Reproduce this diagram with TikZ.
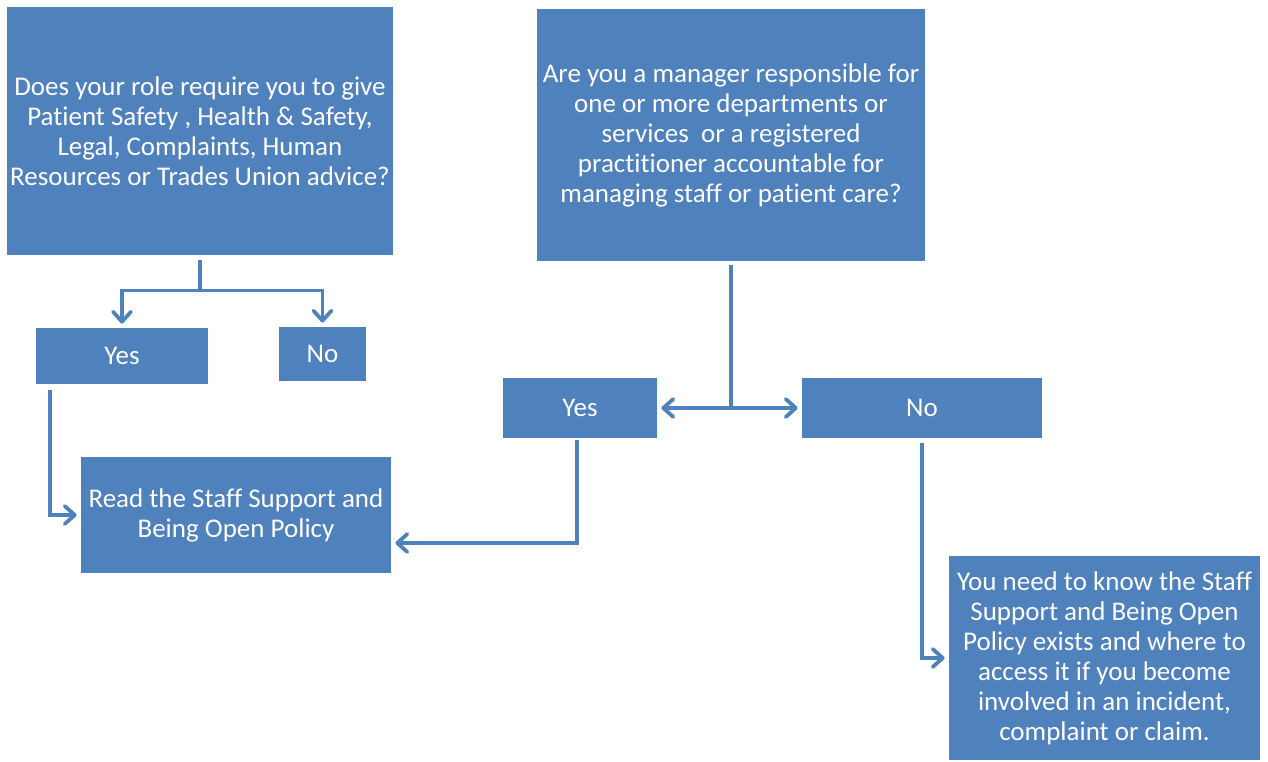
\documentclass[tikz,border=0pt]{standalone}
\usepackage{fontspec}
\setmainfont{Carlito}[Ligatures=NoCommon]
\usetikzlibrary{arrows.meta, positioning, calc}
\definecolor{officeblue}{RGB}{79,129,189}

\begin{document}
\begin{tikzpicture}[x=0.5pt, y=-0.5pt,
  box/.style={fill=officeblue, text=white, align=center, inner sep=0pt, font=\fontsize{13.5}{15}\selectfont},
  link/.style={draw=officeblue, line width=1.9pt},
  arr/.style={link, shorten >=2pt, -{Straight Barb[length=5pt, width=9pt, round]}}]
\useasboundingbox (0,0) rectangle (1268,761);

\node[box, minimum width=193pt, minimum height=124pt] (role) at (200,131) {Does your role require you to give\\Patient Safety , Health \& Safety,\\Legal, Complaints, Human\\Resources or Trades Union advice?};
\node[box, minimum width=194pt, minimum height=126pt] (manager) at (731,135) {Are you a manager responsible for\\one or more departments or\\services~ or a registered\\practitioner accountable for\\managing staff or patient care?};

\node[box, minimum width=86pt, minimum height=28pt] (yesA) at (122,356) {Yes};
\node[box, minimum width=43.5pt, minimum height=27pt] (noA) at (322.5,354) {No};
\node[box, minimum width=77pt, minimum height=30pt] (yesB) at (580,408) {Yes};
\node[box, minimum width=120pt, minimum height=30pt] (noB) at (922,408) {No};

\node[box, minimum width=155pt, minimum height=58pt] (read) at (236,515) {Read the Staff Support and\\Being Open Policy};
\node[box, minimum width=155.5pt, minimum height=102pt] (know) at (1104.5,658) {You need to know the Staff\\Support and Being Open\\Policy exists and where to\\access it if you become\\involved in an incident,\\complaint or claim.};

\draw[link] ([yshift=-2.5pt]role.south) -- ++(0,30) coordinate (j1);
\draw[arr] (j1) -| (yesA.north);
\draw[arr] (j1) -| (noA.north);
\draw[arr] ([xshift=7pt, yshift=-3pt]yesA.south west) |- (read.west);

\draw[link] ([yshift=-2pt]manager.south) -- (manager.south |- yesB.east) coordinate (j2);
\draw[arr] (j2) -- (yesB.east);
\draw[arr] (j2) -- (noB.west);
\draw[arr] ([xshift=-1.5pt, yshift=-1pt]yesB.south) |- ([yshift=-14pt]read.east);
\draw[arr] ([yshift=-2.5pt]noB.south) |- (know.west);
\end{tikzpicture}
\end{document}
